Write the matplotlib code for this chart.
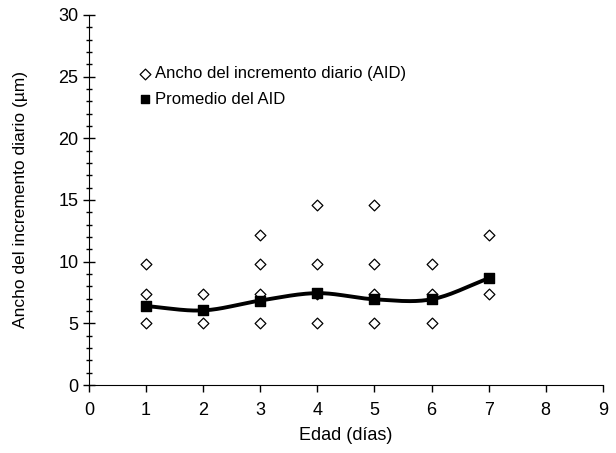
import numpy as np
import matplotlib
matplotlib.use('Agg')
import matplotlib.pyplot as plt
from matplotlib.ticker import MultipleLocator

plt.rcParams['font.family'] = ['Liberation Sans Narrow', 'Liberation Sans', 'DejaVu Sans']

# Datos
dias_aid = [1, 1, 1, 2, 2, 3, 3, 3, 3, 4, 4, 4, 4, 5, 5, 5, 5, 6, 6, 6, 7, 7]
aid = [9.8, 7.4, 5.0, 7.4, 5.0, 12.2, 9.8, 7.4, 5.0, 14.6, 9.8, 7.4, 5.0,
       14.6, 9.8, 7.4, 5.0, 9.8, 7.4, 5.0, 12.2, 7.4]
dias_prom = [1, 2, 3, 4, 5, 6, 7]
prom_aid = [6.4, 6.05, 6.85, 7.45, 6.95, 6.95, 8.65]


def suavizar(x, y, n=30):
    # curva suavizada tipo Excel (Catmull-Rom)
    x = np.asarray(x, float)
    y = np.asarray(y, float)
    px = np.concatenate([[2 * x[0] - x[1]], x, [2 * x[-1] - x[-2]]])
    py = np.concatenate([[2 * y[0] - y[1]], y, [2 * y[-1] - y[-2]]])
    xs, ys = [], []
    for i in range(1, len(px) - 2):
        t = np.linspace(0, 1, n)
        for p, out in ((px, xs), (py, ys)):
            p0, p1, p2, p3 = p[i - 1], p[i], p[i + 1], p[i + 2]
            out.extend(0.5 * ((2 * p1) + (-p0 + p2) * t
                              + (2 * p0 - 5 * p1 + 4 * p2 - p3) * t ** 2
                              + (-p0 + 3 * p1 - 3 * p2 + p3) * t ** 3))
    return xs, ys


fig = plt.figure(figsize=(6.16, 4.53), dpi=100)
ax = fig.add_axes([0.1445, 0.150, 0.834, 0.817])

sx, sy = suavizar(dias_prom, prom_aid)
ax.plot(sx, sy, color='black', lw=2.8, zorder=2)
ax.scatter(dias_aid, aid, marker='D', s=30, facecolor='white', edgecolor='black',
           linewidths=0.9, zorder=3, label='Ancho del incremento diario (AID)')
ax.scatter(dias_prom, prom_aid, marker='s', s=58, color='black', zorder=4,
           label='Promedio del AID')

ax.set_xlim(0, 9)
ax.set_ylim(0, 30)
ax.xaxis.set_major_locator(MultipleLocator(1))
ax.yaxis.set_major_locator(MultipleLocator(5))
ax.yaxis.set_minor_locator(MultipleLocator(1))
ax.spines['top'].set_visible(False)
ax.spines['right'].set_visible(False)
ax.tick_params(axis='y', which='major', direction='inout', length=8, width=1, labelsize=13)
ax.tick_params(axis='y', which='minor', direction='inout', length=5, width=1)
ax.tick_params(axis='x', which='major', direction='out', length=5, width=1,
               labelsize=13, pad=7)
ax.set_xlabel('Edad (días)', fontsize=13, labelpad=6)
ax.set_ylabel('Ancho del incremento diario (µm)', fontsize=12.5, labelpad=22)

leg = ax.legend(loc='upper left', bbox_to_anchor=(0.08, 0.88), frameon=False,
                fontsize=12, handletextpad=0.1, borderaxespad=0, labelspacing=0.65,
                handlelength=1.0, scatterpoints=1)
leg.legend_handles[1].set_sizes([35])

fig.savefig('out.png', dpi=100)
